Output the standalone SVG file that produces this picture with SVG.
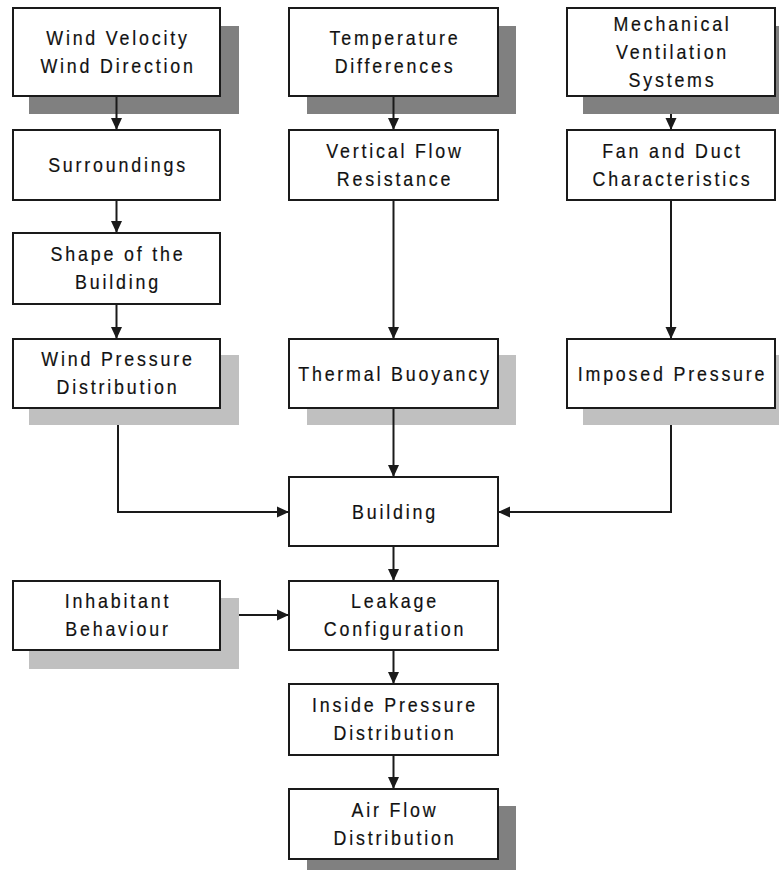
<svg xmlns="http://www.w3.org/2000/svg" width="779" height="870" viewBox="0 0 779 870">
<defs>
<style>
.box{fill:#fff;stroke:#1a1a1a;stroke-width:2}
.sd{fill:#808080}
.sl{fill:#c0c0c0}
.t{font-family:"Liberation Sans",Arial,sans-serif;font-size:21px;letter-spacing:3.3px;fill:#111;stroke:#111;stroke-width:0.2px;text-anchor:middle}
.c{fill:none;stroke:#1a1a1a;stroke-width:2}
</style>
<marker id="ah" markerWidth="12" markerHeight="12" viewBox="0 0 12 12" refX="12" refY="6" orient="auto" markerUnits="userSpaceOnUse">
<path d="M0,0.5 L12,6 L0,11.5 Z" fill="#1a1a1a"/>
</marker>
</defs>
<rect width="779" height="870" fill="#fff"/>

<g id="wind">
<rect class="sd" x="29" y="26" width="210" height="88"/>
<rect class="box" x="13" y="8" width="207" height="88"/>
<text class="t" transform="translate(118 45) scale(0.85 1)"><tspan x="0" y="0">Wind Velocity</tspan><tspan x="0" y="28">Wind Direction</tspan></text>
</g>
<g id="temp">
<rect class="sd" x="307" y="26" width="209" height="88"/>
<rect class="box" x="289" y="8" width="209" height="88"/>
<text class="t" transform="translate(395 45) scale(0.85 1)"><tspan x="0" y="0">Temperature</tspan><tspan x="0" y="28">Differences</tspan></text>
</g>
<g id="mech">
<rect class="sd" x="583" y="26" width="210" height="88"/>
<rect class="box" x="567" y="8" width="208" height="88"/>
<text class="t" transform="translate(672.5 31) scale(0.85 1)"><tspan x="0" y="0">Mechanical</tspan><tspan x="0" y="28">Ventilation</tspan><tspan x="0" y="56">Systems</tspan></text>
</g>

<g id="surr">
<rect class="box" x="13" y="130" width="207" height="70"/>
<text class="t" transform="translate(118 172) scale(0.85 1)">Surroundings</text>
</g>
<g id="vflow">
<rect class="box" x="289" y="130" width="209" height="70"/>
<text class="t" transform="translate(395 158) scale(0.85 1)"><tspan x="0" y="0">Vertical Flow</tspan><tspan x="0" y="28">Resistance</tspan></text>
</g>
<g id="fan">
<rect class="box" x="567" y="130" width="208" height="70"/>
<text class="t" transform="translate(672.5 158) scale(0.85 1)"><tspan x="0" y="0">Fan and Duct</tspan><tspan x="0" y="28">Characteristics</tspan></text>
</g>

<g id="shape">
<rect class="box" x="13" y="233" width="207" height="71"/>
<text class="t" transform="translate(118 261) scale(0.85 1)"><tspan x="0" y="0">Shape of the</tspan><tspan x="0" y="28">Building</tspan></text>
</g>

<g id="windp">
<rect class="sl" x="29" y="355" width="210" height="70"/>
<rect class="box" x="13" y="339" width="207" height="69"/>
<text class="t" transform="translate(118 366) scale(0.85 1)"><tspan x="0" y="0">Wind Pressure</tspan><tspan x="0" y="28">Distribution</tspan></text>
</g>
<g id="thermal">
<rect class="sl" x="307" y="355" width="209" height="70"/>
<rect class="box" x="289" y="339" width="209" height="69"/>
<text class="t" transform="translate(395 381) scale(0.85 1)">Thermal Buoyancy</text>
</g>
<g id="imposed">
<rect class="sl" x="583" y="355" width="210" height="70"/>
<rect class="box" x="567" y="339" width="208" height="69"/>
<text class="t" transform="translate(672.5 381) scale(0.85 1)">Imposed Pressure</text>
</g>

<g id="building">
<rect class="box" x="289" y="477" width="209" height="69"/>
<text class="t" transform="translate(395 519) scale(0.85 1)">Building</text>
</g>

<g id="inhab">
<rect class="sl" x="29" y="598" width="210" height="71"/>
<rect class="box" x="13" y="581" width="207" height="69"/>
<text class="t" transform="translate(118 608) scale(0.85 1)"><tspan x="0" y="0">Inhabitant</tspan><tspan x="0" y="28">Behaviour</tspan></text>
</g>
<g id="leak">
<rect class="box" x="289" y="581" width="209" height="69"/>
<text class="t" transform="translate(395 608) scale(0.85 1)"><tspan x="0" y="0">Leakage</tspan><tspan x="0" y="28">Configuration</tspan></text>
</g>
<g id="inside">
<rect class="box" x="289" y="684" width="209" height="71"/>
<text class="t" transform="translate(395 712) scale(0.85 1)"><tspan x="0" y="0">Inside Pressure</tspan><tspan x="0" y="28">Distribution</tspan></text>
</g>
<g id="airflow">
<rect class="sd" x="307" y="806" width="209" height="70"/>
<rect class="box" x="289" y="789" width="209" height="70"/>
<text class="t" transform="translate(395 817) scale(0.85 1)"><tspan x="0" y="0">Air Flow</tspan><tspan x="0" y="28">Distribution</tspan></text>
</g>

<g id="connectors">
<path class="c" d="M116.5,96 V130" marker-end="url(#ah)"/>
<path class="c" d="M116.5,200 V233" marker-end="url(#ah)"/>
<path class="c" d="M116.5,304 V339" marker-end="url(#ah)"/>
<path class="c" d="M118,425 V512 H289" marker-end="url(#ah)"/>
<path class="c" d="M393.5,96 V130" marker-end="url(#ah)"/>
<path class="c" d="M393.5,200 V339" marker-end="url(#ah)"/>
<path class="c" d="M393.5,408 V477" marker-end="url(#ah)"/>
<path class="c" d="M671,114 V130" marker-end="url(#ah)"/>
<path class="c" d="M671,200 V339" marker-end="url(#ah)"/>
<path class="c" d="M671,425 V512 H498" marker-end="url(#ah)"/>
<path class="c" d="M393.5,546 V581" marker-end="url(#ah)"/>
<path class="c" d="M239,615 H289" marker-end="url(#ah)"/>
<path class="c" d="M393.5,650 V684" marker-end="url(#ah)"/>
<path class="c" d="M393.5,755 V789" marker-end="url(#ah)"/>
</g>
</svg>
